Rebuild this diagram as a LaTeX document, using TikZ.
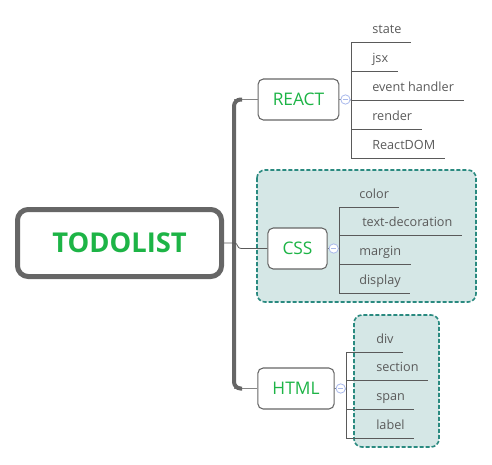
\documentclass[tikz,border=0pt]{standalone}
\usepackage{fontspec}
\setmainfont{Open Sans}
\usepackage{tikz}
\usetikzlibrary{positioning}

\definecolor{todogreen}{HTML}{1DB446}
\definecolor{boxgray}{HTML}{666666}
\definecolor{linegray}{HTML}{5A5A5A}
\definecolor{groupteal}{HTML}{2A8A80}
\definecolor{groupfill}{HTML}{D5E7E6}
\definecolor{foldblue}{HTML}{A9B9EC}

\begin{document}
\begin{tikzpicture}[x=.75pt, y=-.75pt,
        topic/.style={draw=boxgray, line width=.8pt, rounded corners=4pt, fill=white,
            text=todogreen, font=\fontsize{13}{15}\selectfont, inner xsep=11pt, minimum height=30.75pt},
        leaf/.style={anchor=south west, inner xsep=0pt, inner ysep=3pt, text depth=3pt,
            text=linegray, font=\fontsize{9.5}{11}\selectfont},
        twig/.style={draw=linegray, line width=.6pt},
        branch/.style={draw=boxgray!80, line width=1pt},
        group/.style={draw=groupteal, fill=groupfill, line width=1.2pt,
            dash pattern=on 3pt off 1.5pt, rounded corners=6pt},
        fold/.style={circle, draw=foldblue, fill=white, line width=.6pt, inner sep=0pt, minimum size=7pt,
            path picture={\draw[foldblue, line width=.6pt] ([xshift=-1.8pt]path picture bounding box.center)
                -- ([xshift=1.8pt]path picture bounding box.center);}}]
        \useasboundingbox (0,0) rectangle (492,464);

        % groups behind CSS and HTML
        \draw[group] (257,170) rectangle (476,302);
        \draw[group] (354,315) rectangle (439,447);

        % central topic and main topics
        \node[draw=boxgray, line width=3.75pt, rounded corners=8pt, fill=white, text=todogreen,
            font=\bfseries\fontsize{20.5}{24}\selectfont, minimum width=153pt, minimum height=50.25pt] (root) at (119.5,243) {TODOLIST};
        \node[topic] (react) at (298.5,99.5) {REACT};
        \node[topic] (css) at (297.5,248.5) {CSS};
        \node[topic] (html) at (296,388.5) {HTML};

        % trunk
        \coordinate (fork) at (234,243);
        \draw[branch] (fork |- react.west) -- (react.west);
        \draw[branch] (fork |- html.west) -- (html.west);
        \draw[boxgray, line width=3pt, rounded corners=5pt] ([xshift=6pt]fork |- react.west) -- (fork |- react.west)
            -- (fork |- html.west) -- ([xshift=6pt]fork |- html.west);
        \draw[twig] (root.east) -- (fork) .. controls ([xshift=4pt]fork) and ([xshift=1pt]fork |- css.west)
            .. ([xshift=6pt]fork |- css.west) -- (css.west);

        % REACT
        \coordinate (reactbar) at (351,100);
        \draw[twig] (react.east) -- (reactbar);
        \node[fold] (reactfold) at ([xshift=4.5pt]react.east) {};
        \node[leaf] (state) at (372,42) {state};
        \node[leaf] (jsx) at (372,71) {jsx};
        \node[leaf] (handler) at (372,100) {event handler};
        \node[leaf] (render) at (372,129) {render};
        \node[leaf] (reactdom) at (372,158) {ReactDOM};
        \draw[twig] (reactbar |- state.south) -- (reactbar |- reactdom.south);
        \draw[twig] (reactbar |- state.south) -- ([xshift=7pt]state.south east);
        \draw[twig] (reactbar |- jsx.south) -- ([xshift=7pt]jsx.south east);
        \draw[twig] (reactbar |- handler.south) -- ([xshift=7pt]handler.south east);
        \draw[twig] (reactbar |- render.south) -- ([xshift=7pt]render.south east);
        \draw[twig] (reactbar |- reactdom.south) -- ([xshift=7pt]reactdom.south east);

        % CSS
        \coordinate (cssbar) at (339,248.5);
        \draw[twig] (css.east) -- (cssbar);
        \node[fold] (cssfold) at ([xshift=4.5pt]css.east) {};
        \node[leaf] (color) at (359,207) {color};
        \node[leaf] (textdeco) at (362,235) {text-decoration};
        \node[leaf] (margin) at (359,264) {margin};
        \node[leaf] (display) at (359,293) {display};
        \draw[twig] (cssbar |- color.south) -- (cssbar |- display.south);
        \draw[twig] (cssbar |- color.south) -- ([xshift=7pt]color.south east);
        \draw[twig] (cssbar |- textdeco.south) -- ([xshift=7pt]textdeco.south east);
        \draw[twig] (cssbar |- margin.south) -- ([xshift=7pt]margin.south east);
        \draw[twig] (cssbar |- display.south) -- ([xshift=7pt]display.south east);

        % HTML
        \coordinate (htmlbar) at (346,389);
        \draw[twig] (html.east) -- (htmlbar);
        \node[fold] (htmlfold) at ([xshift=4.5pt]html.east) {};
        \node[leaf] (div) at (376,352) {div};
        \node[leaf] (section) at (376,380) {section};
        \node[leaf] (span) at (376,409) {span};
        \node[leaf] (label) at (376,438) {label};
        \draw[twig] (htmlbar |- div.south) -- (htmlbar |- label.south);
        \draw[twig] (htmlbar |- div.south) -- ([xshift=7pt]div.south east);
        \draw[twig] (htmlbar |- section.south) -- ([xshift=7pt]section.south east);
        \draw[twig] (htmlbar |- span.south) -- ([xshift=7pt]span.south east);
        \draw[twig] (htmlbar |- label.south) -- ([xshift=7pt]label.south east);
    \end{tikzpicture}
\end{document}
